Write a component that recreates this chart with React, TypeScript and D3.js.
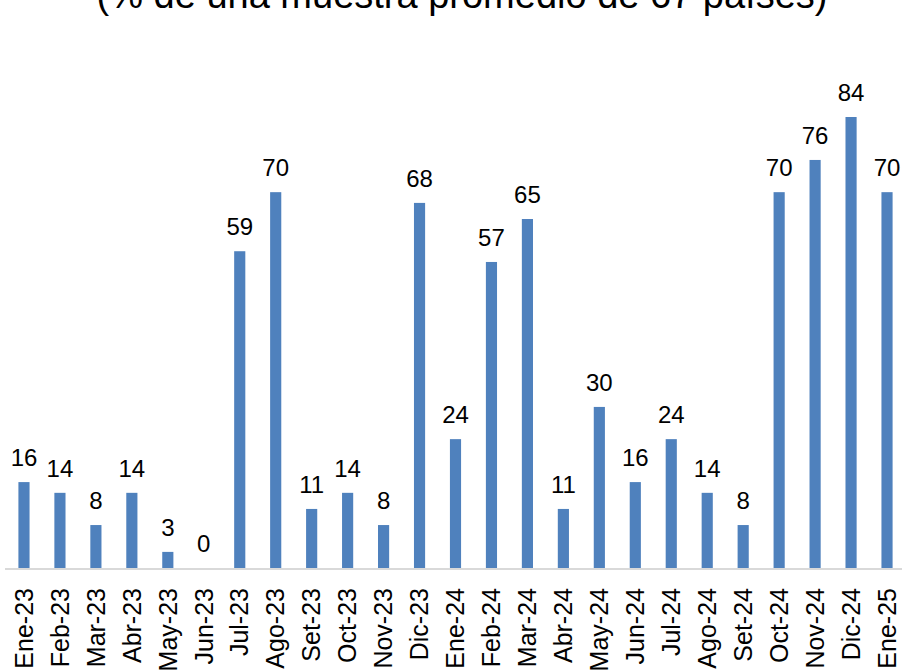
import React from "react";
import * as d3 from "d3";

const categories = [
  "Ene-23","Feb-23","Mar-23","Abr-23","May-23","Jun-23","Jul-23","Ago-23","Set-23","Oct-23","Nov-23","Dic-23",
  "Ene-24","Feb-24","Mar-24","Abr-24","May-24","Jun-24","Jul-24","Ago-24","Set-24","Oct-24","Nov-24","Dic-24",
  "Ene-25",
];
const values = [16,14,8,14,3,0,59,70,11,14,8,68,24,57,65,11,30,16,24,14,8,70,76,84,70];
const title = "(% de una muestra promedio de 67 países)";

const W = 902;
const H = 672;
const baseY = 568;
const font = "Arial, 'Liberation Sans', sans-serif";

export default function App() {
  const x = d3.scaleBand<string>().domain(categories).range([6, 6 + 35.96 * 25]).paddingInner(0.69).paddingOuter(0.345);
  const y = d3.scaleLinear().domain([0, 84]).range([baseY, baseY - 451]);
  const bw = x.bandwidth();
  return (
    <svg width={W} height={H} style={{ position: "absolute", left: 0, top: 0, background: "#fff" }}>
      <text x={462} y={8} textAnchor="middle" fontFamily={font} fontSize={38} fill="#000">{title}</text>
      {categories.map((c, i) => (
        <rect key={c} x={x(c)!} y={y(values[i])} width={bw} height={baseY - y(values[i])} fill="#4F81BD" />
      ))}
      <line x1={5} x2={W} y1={baseY + 1} y2={baseY + 1} stroke="#D9D9D9" strokeWidth={2} />
      {categories.map((c, i) => (
        <text key={"v" + c} x={x(c)! + bw / 2} y={y(values[i]) - 16} textAnchor="middle" fontFamily={font} fontSize={24} fill="#000">
          {values[i]}
        </text>
      ))}
      {categories.map((c) => (
        <text key={"l" + c} transform={`translate(${x(c)! + bw / 2},588) rotate(-90)`} textAnchor="end" dy="0.35em" fontFamily={font} fontSize={25} fill="#000">
          {c}
        </text>
      ))}
    </svg>
  );
}
